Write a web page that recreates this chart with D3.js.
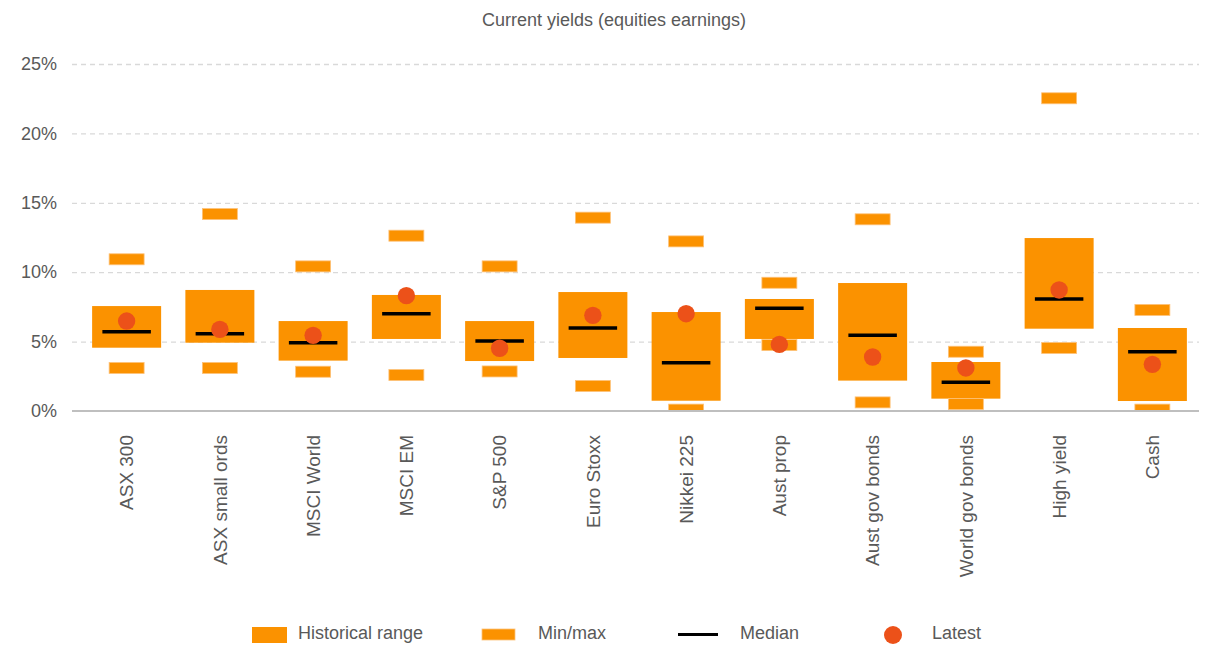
<!DOCTYPE html>
<html>
<head>
<meta charset="utf-8">
<script src="https://cdn.jsdelivr.net/npm/d3@7"></script>
<style>
  body { margin: 0; background: #fff; }
  text { font-family: "Liberation Sans", Arial, sans-serif; fill: #595959; }
</style>
</head>
<body>
<svg width="1209" height="646"></svg>
<script>
// values (percent)
var categories = ["ASX 300", "ASX small ords", "MSCI World", "MSCI EM", "S&P 500", "Euro Stoxx",
                  "Nikkei 225", "Aust prop", "Aust gov bonds", "World gov bonds", "High yield", "Cash"];
var rangeLow  = [4.56, 4.92, 3.63, 5.19, 3.60, 3.82, 0.74, 5.19, 2.19, 0.89, 5.93, 0.72];
var rangeHigh = [7.56, 8.72, 6.48, 8.36, 6.48, 8.57, 7.13, 8.07, 9.22, 3.53, 12.46, 5.98];
var medians   = [5.71, 5.57, 4.92, 7.01, 5.04, 5.98, 3.48, 7.40, 5.45, 2.07, 8.07, 4.27];
var latest    = [6.48, 5.88, 5.45, 8.31, 4.52, 6.89, 7.01, 4.80, 3.89, 3.10, 8.72, 3.36];
var maxima    = [10.93, 14.19, 10.42, 12.63, 10.42, 13.93, 12.22, 9.24, 13.81, 4.27, 22.53, 7.28];
var minima    = [3.10, 3.10, 2.83, 2.59, 2.85, 1.80, 0.10, 4.75, 0.62, 0.50, 4.54, 0.10];
var yTicks = [0, 5, 10, 15, 20, 25];
var legendLabels = ["Historical range", "Min/max", "Median", "Latest"];

var orange = "#fb9200", red = "#ec5119";

var svg = d3.select("svg");

var x = d3.scaleBand()
    .domain(categories)
    .range([80, 1199]);
var y = d3.scaleLinear()
    .domain([0, 25])
    .range([411, 64]);

var rows = categories.map(function (c, i) {
  return { cat: c, lo: rangeLow[i], hi: rangeHigh[i], med: medians[i],
           last: latest[i], max: maxima[i], min: minima[i] };
});

// title
svg.append("text")
    .attr("x", 614).attr("y", 26)
    .attr("text-anchor", "middle")
    .style("font-size", "18px")
    .text("Current yields (equities earnings)");

// gridlines + y labels
var yAxis = d3.axisLeft(y)
    .tickValues(yTicks)
    .tickSize(-(1199 - 72))
    .tickFormat(function (d) { return d + "%"; });
var gy = svg.append("g")
    .attr("transform", "translate(72,0)")
    .call(yAxis);
gy.select(".domain").remove();
gy.selectAll(".tick line")
    .attr("stroke", "#d9d9d9")
    .attr("stroke-width", 1.3)
    .attr("stroke-dasharray", "5,4")
    .filter(function (d) { return d === 0; }).remove();
gy.selectAll(".tick text")
    .attr("x", -15)
    .style("font-size", "18px")
    .style("fill", "#595959");

svg.append("clipPath").attr("id", "plot")
  .append("rect").attr("x", 0).attr("y", 0).attr("width", 1209).attr("height", y(0));

var plot = svg.append("g").attr("clip-path", "url(#plot)");
var bw = x.bandwidth();

// historical range
plot.selectAll(".range").data(rows).enter().append("rect")
    .attr("x", function (d) { return x(d.cat) + bw * 0.13; })
    .attr("width", bw * 0.74)
    .attr("y", function (d) { return y(d.hi); })
    .attr("height", function (d) { return y(d.lo) - y(d.hi); })
    .attr("fill", orange);

// min / max markers
var mm = [];
rows.forEach(function (d) { mm.push({ cat: d.cat, v: d.max }); mm.push({ cat: d.cat, v: d.min }); });
plot.selectAll(".mm").data(mm).enter().append("rect")
    .attr("x", function (d) { return x(d.cat) + bw * 0.3125; })
    .attr("width", bw * 0.375)
    .attr("y", function (d) { return y(d.v) - 5.5; })
    .attr("height", 11)
    .attr("fill", orange)
    .attr("stroke", "#fdc27a")
    .attr("stroke-width", 0.8);

// median
plot.selectAll(".med").data(rows).enter().append("line")
    .attr("x1", function (d) { return x(d.cat) + bw * 0.24; })
    .attr("x2", function (d) { return x(d.cat) + bw * 0.76; })
    .attr("y1", function (d) { return y(d.med); })
    .attr("y2", function (d) { return y(d.med); })
    .attr("stroke", "#000")
    .attr("stroke-width", 3.5);

// latest
plot.selectAll(".last").data(rows).enter().append("circle")
    .attr("cx", function (d) { return x(d.cat) + bw / 2; })
    .attr("cy", function (d) { return y(d.last); })
    .attr("r", 8.7)
    .attr("fill", red);

// baseline + category labels
var xAxis = d3.axisBottom(x).tickSize(0);
var gx = svg.append("g")
    .attr("transform", "translate(0," + y(0) + ")")
    .call(xAxis);
gx.select(".domain")
    .attr("d", "M72,0H1199")
    .attr("stroke", "#bfbfbf")
    .attr("stroke-width", 2);
gx.selectAll(".tick text")
    .attr("transform", "rotate(-90)")
    .attr("x", -24).attr("y", 0).attr("dy", "0.35em")
    .attr("text-anchor", "end")
    .style("font-size", "19px")
    .style("fill", "#595959");

// legend
var lg = svg.append("g");
var lx = [252, 482, 678, 884];
var tx = [298, 538, 740, 932];
lg.append("rect").attr("x", lx[0]).attr("y", 627).attr("width", 35).attr("height", 16).attr("fill", orange);
lg.append("rect").attr("x", lx[1]).attr("y", 629).attr("width", 33).attr("height", 11)
    .attr("fill", orange).attr("stroke", "#fdc27a").attr("stroke-width", 0.8);
lg.append("line").attr("x1", lx[2]).attr("x2", lx[2] + 40).attr("y1", 634.5).attr("y2", 634.5)
    .attr("stroke", "#000").attr("stroke-width", 3);
lg.append("circle").attr("cx", lx[3] + 9).attr("cy", 635).attr("r", 9).attr("fill", red);
lg.selectAll(".lt").data(legendLabels).enter().append("text")
    .attr("x", function (d, i) { return tx[i]; })
    .attr("y", 639)
    .style("font-size", "18px")
    .text(function (d) { return d; });
</script>
</body>
</html>
